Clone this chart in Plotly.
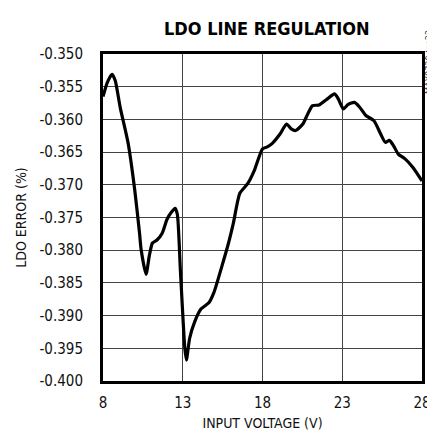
import plotly.graph_objects as go

# Valores
voltaje = [8.0, 8.06, 8.26, 8.57, 8.77, 9.08, 9.58, 9.99, 10.29, 10.39, 10.70, 10.90,
           11.10, 11.40, 11.71, 12.01, 12.32, 12.52, 12.66, 12.85, 13.13, 13.23, 13.43,
           13.74, 14.14, 14.65, 14.95, 15.46, 15.87, 16.17, 16.58, 17.08, 17.49, 18.0,
           18.3, 18.6, 19.11, 19.51, 19.82, 20.08, 20.53, 20.83, 21.14, 21.55, 22.05,
           22.52, 22.76, 23.07, 23.37, 23.77, 24.08, 24.48, 24.99, 25.40, 25.70, 25.96,
           26.21, 26.51, 26.92, 27.42, 28.0]
error_ldo = [-0.3565, -0.3560, -0.3544, -0.3531, -0.3541, -0.3582, -0.3637, -0.3708,
             -0.3774, -0.3799, -0.3837, -0.3809, -0.3789, -0.3784, -0.3774, -0.3753,
             -0.3741, -0.3736, -0.3745, -0.3830, -0.3950, -0.3968, -0.3935, -0.3910,
             -0.3890, -0.3880, -0.3865, -0.3824, -0.3789, -0.3759, -0.3713, -0.3698,
             -0.3678, -0.3645, -0.3642, -0.3637, -0.3622, -0.3607, -0.3615, -0.3617,
             -0.3607, -0.3592, -0.3579, -0.3578, -0.3569, -0.3561, -0.3569, -0.3584,
             -0.3577, -0.3574, -0.3581, -0.3594, -0.3602, -0.3622, -0.3635, -0.3632,
             -0.3640, -0.3653, -0.3660, -0.3673, -0.3694]

x_ticks = [8, 13, 18, 23, 28]
y_ticks = [-0.350, -0.355, -0.360, -0.365, -0.370, -0.375, -0.380, -0.385, -0.390, -0.395, -0.400]
y_labels = ["-0.350", "-0.355", "-0.360", "-0.365", "-0.370", "-0.375", "-0.380",
            "-0.385", "-0.390", "-0.395", "-0.400"]

fuente = "Liberation Sans Narrow, DejaVu Sans Condensed, Arial Narrow, sans-serif"

fig = go.Figure()
fig.add_trace(go.Scatter(
    x=voltaje, y=error_ldo, mode="lines",
    line=dict(color="black", width=3.2, shape="spline", smoothing=0.6),
    showlegend=False
))

fig.update_layout(
    width=435, height=434,
    margin=dict(l=94, r=12, t=46, b=58),
    paper_bgcolor="white", plot_bgcolor="white",
    font=dict(family=fuente, size=15, color="#111"),
    title=dict(text="<b>LDO LINE REGULATION</b>", x=0.595, xanchor="center", y=0.953,
               yanchor="middle", font=dict(family=fuente, size=18, color="black")),
    xaxis=dict(
        range=[8, 28], tickvals=x_ticks, showgrid=True, gridcolor="#444", gridwidth=1,
        zeroline=False, showline=True, linecolor="black", linewidth=3, mirror=True,
        ticks="", ticklabelstandoff=6,
        title=dict(text="INPUT VOLTAGE (V)", standoff=8, font=dict(size=14))
    ),
    yaxis=dict(
        range=[-0.400, -0.350], tickvals=y_ticks, ticktext=y_labels, showgrid=True,
        gridcolor="#444", gridwidth=1, zeroline=False, showline=True, linecolor="black",
        linewidth=3, mirror=True, ticks="", ticklabelstandoff=14,
        title=dict(text="LDO ERROR (%)", standoff=10, font=dict(size=14))
    ),
)

# Etiqueta vertical del lado derecho
fig.add_annotation(
    text="MAX8730 toc22", xref="paper", yref="paper", x=1.0, y=1.0, xshift=7,
    yshift=26, xanchor="center", yanchor="top", textangle=-90, showarrow=False,
    font=dict(family=fuente, size=9, color="#333")
)

fig.write_html("out.html")
